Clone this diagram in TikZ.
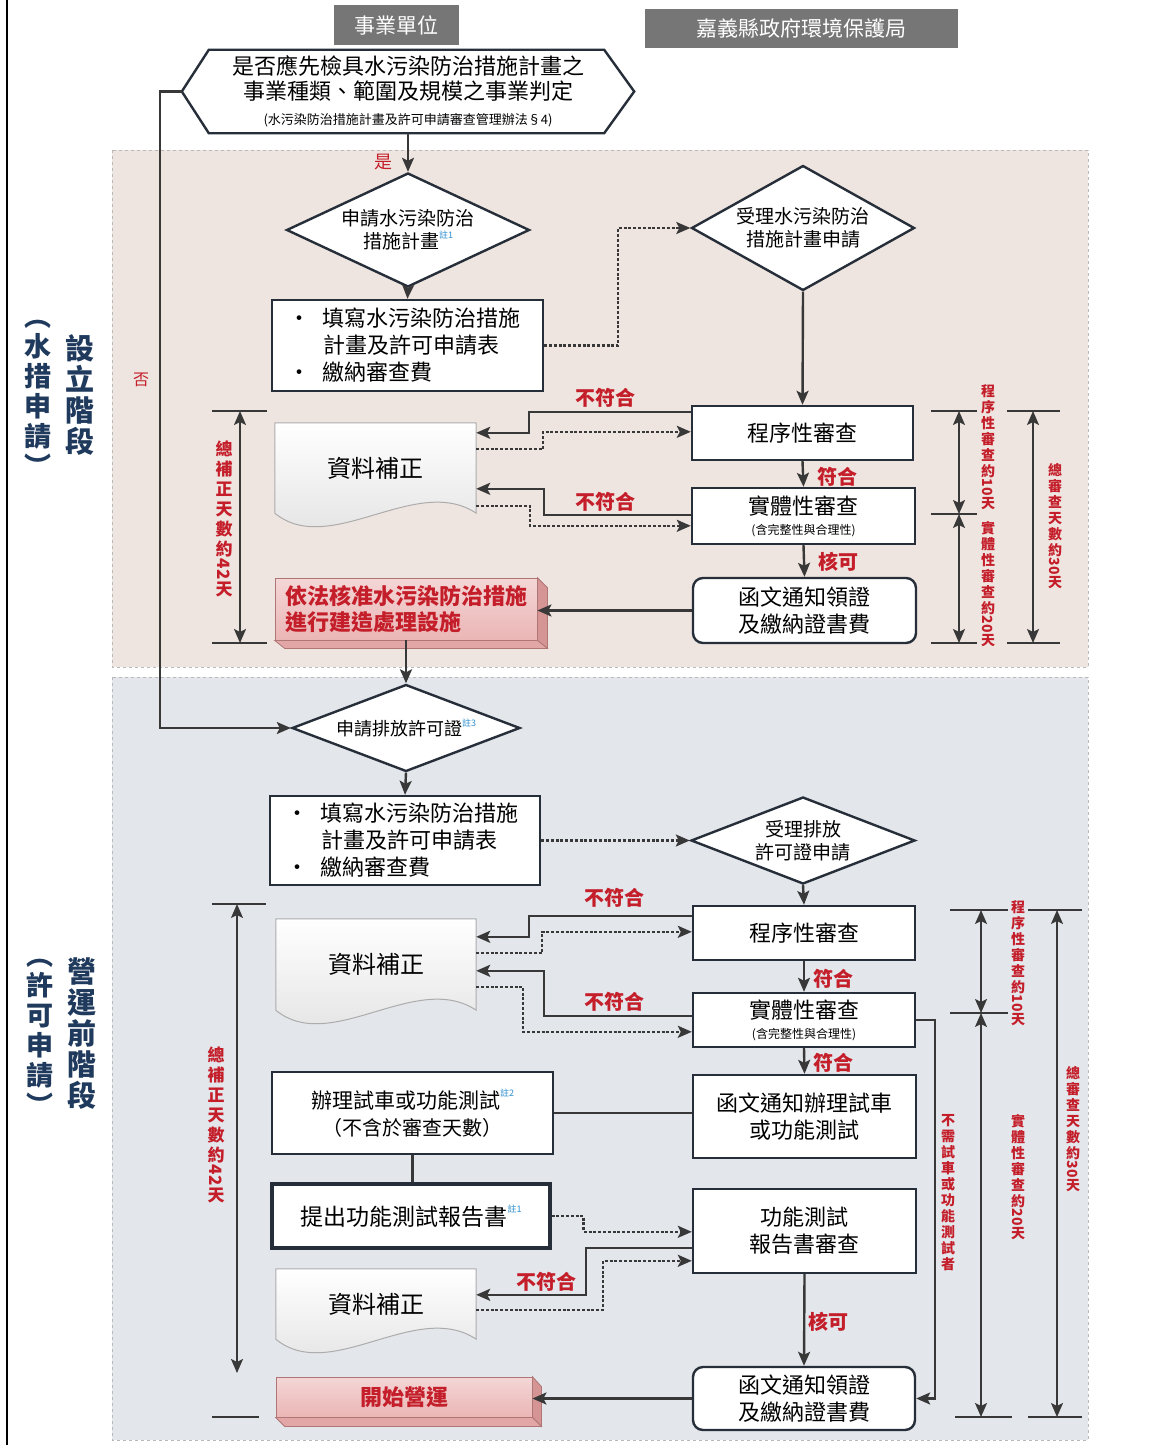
\documentclass[tikz,border=0pt]{standalone}
\usepackage{fontspec}
\usepackage{graphicx}
\setmainfont{Noto Sans CJK TC}
\usetikzlibrary{arrows.meta,shapes.geometric,calc}
\definecolor{linec}{HTML}{383838}
\definecolor{boxline}{HTML}{262E3A}
\definecolor{redt}{HTML}{C41E2A}
\definecolor{bluet}{HTML}{1F3A5C}
\definecolor{topbg}{HTML}{EFE5E0}
\definecolor{botbg}{HTML}{E3E6EA}
\definecolor{hdr}{HTML}{767676}
\definecolor{notec}{HTML}{2F8FCF}
\definecolor{pinkf}{HTML}{EBB5B5}
\definecolor{pinks}{HTML}{D69595}
\definecolor{pinkd}{HTML}{E2A6A6}
\definecolor{pinkb}{HTML}{B07676}
\newcommand\fsz[2]{\fontsize{#1}{#2}\selectfont}
\newcommand\zhnote[1]{\raisebox{0.55em}{\fsz{9}{9}\color{notec}#1}}
\newcommand\rdig[1]{\rotatebox[origin=c]{-90}{#1}}
\pgfdeclarelayer{back}
\pgfdeclarelayer{bg}
\pgfsetlayers{back,bg,main}
\begin{document}
\begin{tikzpicture}[x=1pt,y=-1pt,
  every node/.style={inner sep=0pt},
  box/.style={draw=boxline, line width=2.4pt, fill=white, align=center, font=\fsz{22}{27}},
  rbox/.style={box, rounded corners=10pt},
  dia/.style={diamond, draw=boxline, line width=2.4pt, fill=white, align=center, font=\fsz{19}{23}},
  hdrbox/.style={fill=hdr, text=white, font=\fsz{21}{24}},
  pinkbox/.style={top color=pinkf!55!white, bottom color=pinkf, draw=pinkb, line width=0.8pt, align=left, text=redt, font=\bfseries\fsz{22}{26}},
  docn/.style={font=\fsz{24}{28}},
  docfill/.style={draw=gray!65, line width=1pt, top color=white, bottom color=gray!25},
  arr/.style={draw=linec, line width=2.4pt, -{Stealth[length=14pt,width=12pt,inset=3pt]}},
  dotarr/.style={arr, dash pattern=on 3pt off 1.8pt},
  plain/.style={draw=linec, line width=2.4pt},
  redl/.style={text=redt, font=\bfseries\fsz{20}{22}},
  vlab/.style={text=redt, font=\bfseries\fsz{14}{16}, align=center},
  vlabbig/.style={text=redt, font=\bfseries\fsz{17}{20}, align=center},
  stage/.style={text=bluet, font=\bfseries\fsz{29}{31}, align=center},
  tick/.style={draw=linec, line width=2pt},
  dim/.style={draw=linec, line width=2pt, {Stealth[length=14pt,width=12pt,inset=3pt]}-{Stealth[length=14pt,width=12pt,inset=3pt]}},
  region/.style={draw=gray!55, dashed, line width=1pt}
]
\useasboundingbox (0,0) rectangle (1171,1445);
\begin{pgfonlayer}{back}
\fill[white] (0,0) rectangle (1171,1445);
\draw[region, fill=topbg] (112,150) rectangle (1088,667);
\draw[region, fill=botbg] (112,677) rectangle (1088,1440);
\draw[line width=2pt, black] (7,0) -- (7,1445);
\end{pgfonlayer}

% headers
\node[hdrbox, minimum width=125pt, minimum height=40pt] (h1) at (396,25) {事業單位};
\node[hdrbox, minimum width=313pt, minimum height=39pt] (h2) at (801.5,28.5) {嘉義縣政府環境保護局};

% hexagon
\node[minimum width=452pt, minimum height=83pt, align=center, font=\fsz{22}{25}] (hex) at (408,91.5)
  {是否應先檢具水污染防治措施計畫之\\事業種類、範圍及規模之事業判定\\{\fsz{13}{18}(水污染防治措施計畫及許可申請審查管理辦法§4)}};
\draw[boxline, line width=2.4pt] (hex.west) -- ($(hex.north west)+(27,0)$) -- ($(hex.north east)+(-30,0)$) -- (hex.east)
  -- ($(hex.south east)+(-30,0)$) -- ($(hex.south west)+(27,0)$) -- cycle;

% stage labels
\node[stage] (sa1) at (80,395) {設\\立\\階\\段};
\node[stage, font=\bfseries\fsz{27}{30}] (sa2) at (38,398) {︵\\水\\措\\申\\請\\︶};
\node[stage] (sb1) at (82,1034) {營\\運\\前\\階\\段};
\node[stage, font=\bfseries\fsz{27}{30}] (sb2) at (40,1037) {︵\\許\\可\\申\\請\\︶};

% ---------- top section ----------
\node[dia, aspect=2.13, minimum width=243pt, minimum height=114pt] (q1) at (408,230) {申請水污染防治\\措施計畫\zhnote{註1}};
\node[box, minimum width=271pt, minimum height=91pt, text width=271pt, align=left] (b1) at (407.5,345.5)
  {\hspace*{16pt}\makebox[35pt][l]{•}填寫水污染防治措施\\\hspace*{51pt}計畫及許可申請表\\\hspace*{16pt}\makebox[35pt][l]{•}繳納審查費};
\node[dia, aspect=1.78, minimum width=223pt, minimum height=125pt] (q2) at (803,228) {受理水污染防治\\措施計畫申請};
\node[box, minimum width=221pt, minimum height=54pt] (p1) at (802.5,433) {程序性審查};
\node[box, minimum width=223pt, minimum height=56pt, font=\fsz{22}{22}] (s1) at (803.5,516) {實體性審查\\[-2pt]{\fsz{12}{14}(含完整性與合理性)}};
\node[rbox, minimum width=223pt, minimum height=65pt] (n1) at (804.5,610.5) {函文通知領證\\及繳納證書費};
\node[docn, minimum width=201pt, minimum height=90pt] (d1) at (375.5,468) {資料補正};
\node[pinkbox, minimum width=262pt, minimum height=62pt] (y1) at (406,609) {依法核准水污染防治措施\\進行建造處理設施};
\filldraw[fill=pinks, draw=pinkb, line width=0.8pt] (y1.north east) -- ++(10,10) -- ($(y1.south east)+(10,8)$) -- (y1.south east) -- cycle;
\filldraw[fill=pinkd, draw=pinkb, line width=0.8pt] (y1.south west) -- (y1.south east) -- ++(10,8) -- ($(y1.south west)+(10,8)$) -- cycle;

\begin{pgfonlayer}{bg}
\path[docfill] (d1.north west) -- (d1.north east) -- (d1.south east) .. controls ($(d1.south east)+(-60,-40)$) and ($(d1.south west)+(55,45)$) .. (d1.south west) -- cycle;
\end{pgfonlayer}

\draw[arr] (hex.south) -- (q1.north);
\node[text=redt, font=\fsz{18}{20}] (lyes) at (383,162) {是};
\draw[arr] (q1.south) -- (b1.north);
\draw[dotarr] (b1.east) -- ++(74,0) |- (q2.west);
\draw[arr] (q2.south) -- (p1.north);
\draw[arr] (p1.south) -- (s1.north);
\node[redl] (lf1) at (837,477) {符合};
\draw[arr] (s1.south) -- (n1.north);
\node[redl] (lk1) at (838,562) {核可};
\draw[arr] (n1.west) -- (n1.west -| y1.east);
\draw[arr] ($(p1.north west)+(0,7)$) -- ++(-162,0) |- ($(d1.north east)+(0,10)$);
\draw[dotarr] ($(d1.north east)+(0,26)$) -- ++(67,0) |- ($(p1.north west)+(0,27)$);
\draw[arr] ($(s1.north west)+(0,28)$) -- ++(-147,0) |- ($(d1.north east)+(0,66)$);
\draw[dotarr] ($(d1.north east)+(0,83)$) -- ++(54,0) |- ($(s1.north west)+(0,39)$);
\node[redl] (ln1) at (605,398) {不符合};
\node[redl] (ln2) at (605,502) {不符合};

% top dims
\draw[tick] (212,411) -- (267,411);
\draw[tick] (212,643) -- (267,643);
\draw[dim] (240,411) -- (240,643);
\node[vlabbig] (dl1) at (224,519) {總\\補\\正\\天\\數\\約\\\rdig{42}\\天};
\draw[tick] (931,411) -- (977,411);
\draw[tick] (931,514) -- (977,514);
\draw[tick] (931,643) -- (977,643);
\draw[dim] (959,411) -- (959,514);
\draw[dim] (959,514) -- (959,643);
\draw[tick] (1007,411) -- (1060,411);
\draw[tick] (1007,643) -- (1060,643);
\draw[dim] (1033,411) -- (1033,643);
\node[vlab] (dr1) at (988,447) {程\\序\\性\\審\\查\\約\\\rdig{10}\\天};
\node[vlab] (dr2) at (988,584) {實\\體\\性\\審\\查\\約\\\rdig{20}\\天};
\node[vlab] (dr3) at (1055,526) {總\\審\\查\\天\\數\\約\\\rdig{30}\\天};

% ---------- bottom section ----------
\node[dia, aspect=2.55, minimum width=228pt, minimum height=87pt, font=\fsz{18}{22}] (q3) at (406,728) {申請排放許可證\zhnote{註3}};
\draw[arr] (y1.south) -- (q3.north);
\draw[arr] (hex.west) -- ++(-22,0) |- (q3.west);
\node[text=redt, font=\fsz{16}{18}] (lno) at (141,380) {否};
\node[box, minimum width=270pt, minimum height=89pt, text width=270pt, align=left] (b2) at (405,840.5)
  {\hspace*{16pt}\makebox[35pt][l]{•}填寫水污染防治措施\\\hspace*{51pt}計畫及許可申請表\\\hspace*{16pt}\makebox[35pt][l]{•}繳納審查費};
\node[dia, aspect=2.57, minimum width=224pt, minimum height=87pt] (q4) at (803,840.5) {受理排放\\許可證申請};
\node[box, minimum width=222pt, minimum height=54pt] (p2) at (804,933) {程序性審查};
\node[box, minimum width=222pt, minimum height=54pt, font=\fsz{22}{22}] (s2) at (804,1020) {實體性審查\\[-2pt]{\fsz{12}{14}(含完整性與合理性)}};
\node[box, minimum width=223pt, minimum height=83pt] (t2) at (804.5,1116.5) {函文通知辦理試車\\或功能測試};
\node[box, minimum width=281pt, minimum height=82pt, font=\fsz{21}{27}] (tb) at (412.5,1113) {辦理試車或功能測試\zhnote{註2}\\{\fsz{20}{27}（不含於審查天數）}};
\node[box, minimum width=278pt, minimum height=64pt, line width=3.2pt, font=\fsz{23}{27}] (rb) at (411,1216) {提出功能測試報告書\zhnote{註1}};
\node[box, minimum width=223pt, minimum height=84pt] (rv) at (804.5,1231) {功能測試\\報告書審查};
\node[rbox, minimum width=222pt, minimum height=63pt] (f2) at (804,1398.5) {函文通知領證\\及繳納證書費};
\node[docn, minimum width=200pt, minimum height=91pt] (d2) at (376,964.5) {資料補正};
\node[docn, minimum width=200pt, minimum height=70pt] (d3) at (376,1304) {資料補正};
\node[pinkbox, minimum width=256pt, minimum height=40pt, align=center] (st) at (404,1397) {開始營運};
\filldraw[fill=pinks, draw=pinkb, line width=0.8pt] (st.north east) -- ++(9,10) -- ($(st.south east)+(9,9)$) -- (st.south east) -- cycle;
\filldraw[fill=pinkd, draw=pinkb, line width=0.8pt] (st.south west) -- (st.south east) -- ++(9,9) -- ($(st.south west)+(9,9)$) -- cycle;

\begin{pgfonlayer}{bg}
\path[docfill] (d2.north west) -- (d2.north east) -- (d2.south east) .. controls ($(d2.south east)+(-60,-40)$) and ($(d2.south west)+(55,45)$) .. (d2.south west) -- cycle;
\path[docfill] (d3.north west) -- (d3.north east) -- (d3.south east) .. controls ($(d3.south east)+(-60,-40)$) and ($(d3.south west)+(55,45)$) .. (d3.south west) -- cycle;
\end{pgfonlayer}

\draw[arr] (q3.south) -- (b2.north);
\draw[dotarr] (b2.east) -- (q4.west);
\draw[arr] (q4.south) -- (p2.north);
\draw[arr] (p2.south) -- (s2.north);
\node[redl] (lf2) at (833,979) {符合};
\draw[arr] (s2.south) -- (t2.north);
\node[redl] (lf3) at (833,1063) {符合};
\draw[plain] (tb.east) -- (tb.east -| t2.west);
\draw[plain] (tb.south) -- (tb.south |- rb.north);
\draw[arr] ($(p2.north west)+(0,11)$) -- ++(-163,0) |- ($(d2.north east)+(0,18)$);
\draw[dotarr] ($(d2.north east)+(0,34)$) -- ++(66,0) |- ($(p2.north west)+(0,27)$);
\draw[arr] ($(s2.north west)+(0,24)$) -- ++(-148,0) |- ($(d2.north east)+(0,52)$);
\draw[dotarr] ($(d2.north east)+(0,68)$) -- ++(47,0) |- ($(s2.north west)+(0,40)$);
\node[redl] (ln3) at (614,898) {不符合};
\node[redl] (ln4) at (614,1002) {不符合};
\draw[dotarr] (rb.east) -- ++(32,0) |- ($(rv.north west)+(0,44)$);
\draw[arr] ($(rv.north west)+(0,60)$) -- ++(-106,0) |- ($(d3.north east)+(0,26)$);
\draw[dotarr] ($(d3.north east)+(0,41)$) -- ++(127,0) |- ($(rv.north west)+(0,73)$);
\node[redl] (ln5) at (546,1282) {不符合};
\draw[arr] (rv.south) -- (f2.north);
\node[redl] (lk2) at (828,1322) {核可};
\draw[arr] (f2.west) -- (f2.west -| st.east);
\draw[arr] (s2.east) -- ++(19,0) |- (f2.east);
\node[vlab] (lskip) at (948,1193) {不\\需\\試\\車\\或\\功\\能\\測\\試\\者};

% bottom dims
\draw[tick] (212,904) -- (266,904);
\draw[tick] (212,1417) -- (259,1417);
\draw[dim] (237,904) -- (237,1373);
\node[vlabbig] (dl2) at (216,1125) {總\\補\\正\\天\\數\\約\\\rdig{42}\\天};
\draw[tick] (950,910) -- (1008,910);
\draw[tick] (950,1013) -- (1008,1013);
\draw[tick] (955,1417) -- (1012,1417);
\draw[dim] (981,910) -- (981,1013);
\draw[dim] (981,1013) -- (981,1417);
\draw[tick] (1028,910) -- (1082,910);
\draw[tick] (1028,1417) -- (1082,1417);
\draw[dim] (1057,910) -- (1057,1417);
\node[vlab] (dr4) at (1018,963) {程\\序\\性\\審\\查\\約\\\rdig{10}\\天};
\node[vlab] (dr5) at (1018,1177) {實\\體\\性\\審\\查\\約\\\rdig{20}\\天};
\node[vlab] (dr6) at (1073,1129) {總\\審\\查\\天\\數\\約\\\rdig{30}\\天};
\end{tikzpicture}
\end{document}
